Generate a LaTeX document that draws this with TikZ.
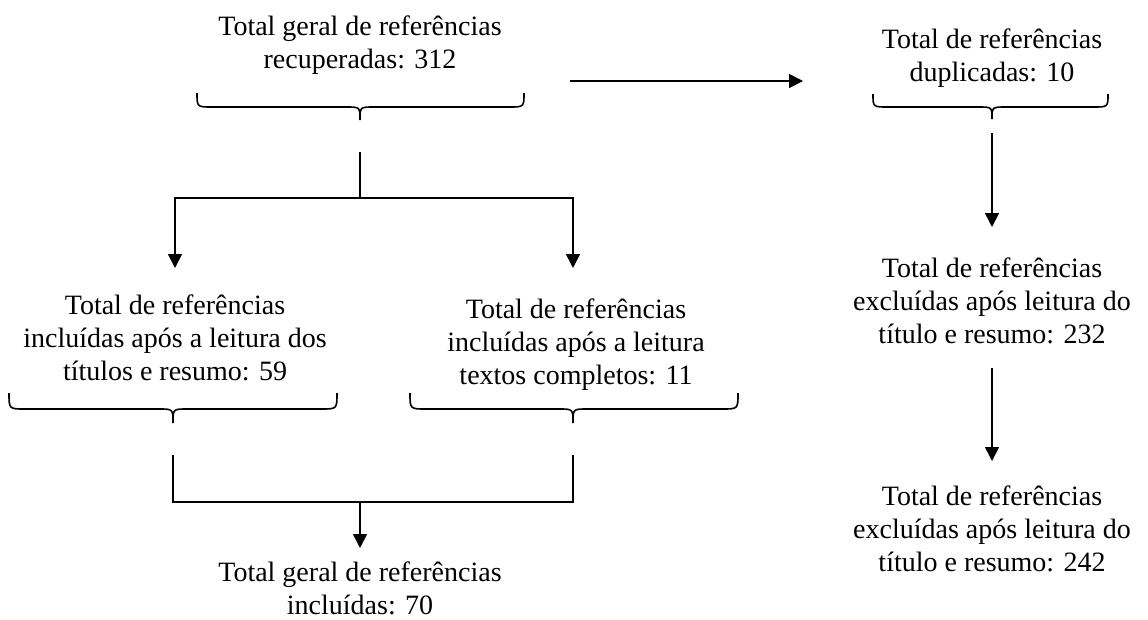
\documentclass[tikz,border=0pt]{standalone}
\usepackage{fontspec}
\setmainfont{Liberation Serif}
\usetikzlibrary{arrows.meta}
\begin{document}
\begin{tikzpicture}[x=1pt,y=-1pt,
  txt/.style={align=center,font=\fontsize{28}{33}\selectfont,inner sep=0pt},
  conn/.style={line width=1.6pt},
  arr/.style={line width=1.6pt,-{Triangle[length=14pt,width=14pt]}},
  brace/.style={line width=1.6pt}]
\useasboundingbox (0,0) rectangle (1148,619);
% text nodes
\node[txt] (t0) at (360,45) {Total geral de referências\\recuperadas: 312};
\node[txt] (d0) at (992,58) {Total de referências\\duplicadas: 10};
\node[txt] (l1) at (175,338) {Total de referências\\incluídas após a leitura dos\\títulos e resumo: 59};
\node[txt] (r1) at (576,345) {Total de referências\\incluídas após a leitura\\textos completos: 11};
\node[txt] (e1) at (992,301) {Total de referências\\excluídas após leitura do\\título e resumo: 232};
\node[txt] (e2) at (992,529) {Total de referências\\excluídas após leitura do\\título e resumo: 242};
\node[txt] (b0) at (360,588) {Total geral de referências\\incluídas: 70};
% braces
\draw[brace] (197,93) .. controls (197,107) .. (212,107) -- (346,107) .. controls (360,107) .. (360,120) .. controls (360,107) .. (374,107) -- (509,107) .. controls (524,107) .. (524,93);
\draw[brace] (873,94) .. controls (873,107) .. (888,107) -- (978,107) .. controls (992,107) .. (992,119) .. controls (992,107) .. (1006,107) -- (1093,107) .. controls (1108,107) .. (1108,94);
\draw[brace] (9,393) .. controls (9,409) .. (25,409) -- (159,409) .. controls (173,409) .. (173,423) .. controls (173,409) .. (187,409) -- (321,409) .. controls (337,409) .. (337,393);
\draw[brace] (410,393) .. controls (410,409) .. (426,409) -- (559,409) .. controls (573,409) .. (573,423) .. controls (573,409) .. (587,409) -- (722,409) .. controls (738,409) .. (738,393);
% coordinates
\coordinate (a0) at (570,81);
\coordinate (a1) at (803,81);
\coordinate (s0) at (360,152);
\coordinate (j0) at (360,198);
\coordinate (jl) at (175,198);
\coordinate (jr) at (573,198);
\coordinate (tl) at (175,268);
\coordinate (tr) at (573,268);
\coordinate (ul) at (173,455);
\coordinate (ur) at (573,455);
\coordinate (hl) at (173,502);
\coordinate (hr) at (573,502);
\coordinate (hm) at (360,502);
\coordinate (bm) at (360,548);
\coordinate (v0) at (992,133);
\coordinate (v1) at (992,227);
\coordinate (w0) at (992,368);
\coordinate (w1) at (992,461);
% connectors
\draw[arr] (a0) -- (a1);
\draw[conn] (s0) -- (j0);
\draw[arr] (j0) -- (jl) -- (tl);
\draw[arr] (j0) -- (jr) -- (tr);
\draw[conn] (ul) -- (hl) -- (hr) -- (ur);
\draw[arr] (hm) -- (bm);
\draw[arr] (v0) -- (v1);
\draw[arr] (w0) -- (w1);
\end{tikzpicture}
\end{document}
